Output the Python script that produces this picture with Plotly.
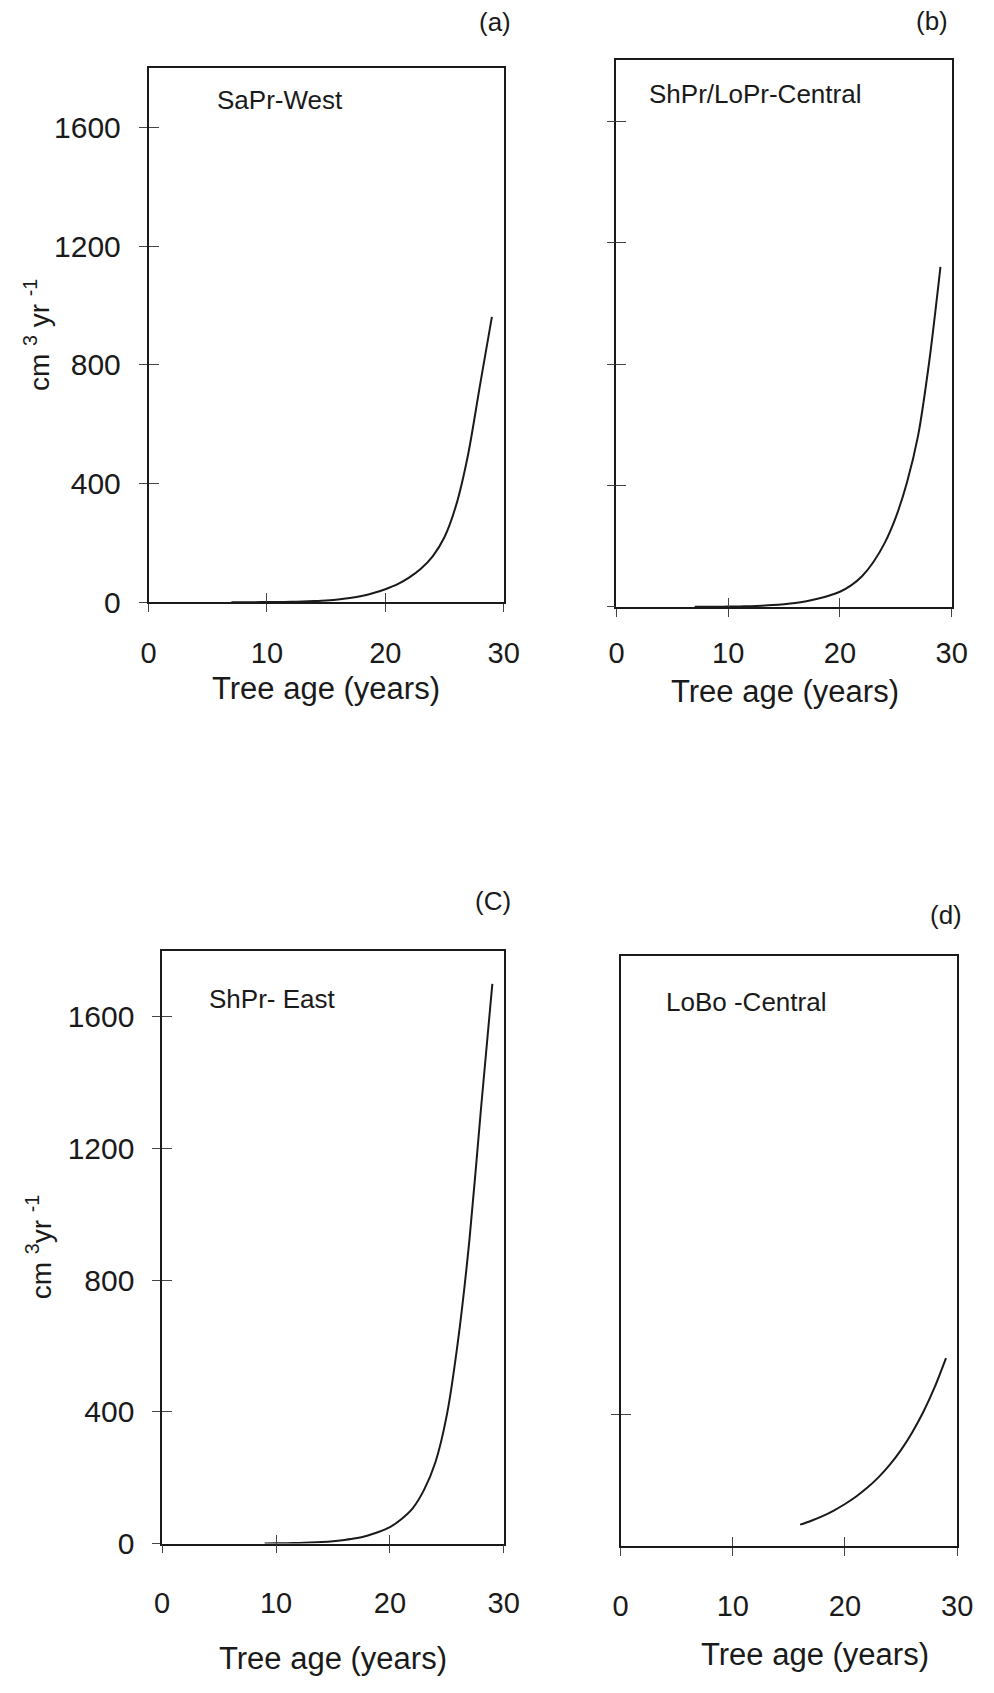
import plotly.graph_objects as go

W, H = 994, 1693

# ---------------- data ----------------
age_a = [7, 8, 9, 10, 11, 12, 13, 14, 15, 16, 17, 18, 19, 20, 21, 22, 23, 24, 25, 26, 27, 28, 29]
vol_a = [0.1, 0.2, 0.4, 0.6, 1, 1.5, 2.5, 4, 6, 9, 14, 21, 31, 44, 60, 83, 113, 155, 220, 330, 500, 733, 962]

age_b = [7, 8, 9, 10, 11, 12, 13, 14, 15, 16, 17, 18, 19, 20, 21, 22, 23, 24, 25, 26, 27, 28, 29]
vol_b = [0.2, 0.4, 0.6, 1, 1.5, 2.5, 4, 6, 9, 13, 19, 27, 37, 50, 71, 102, 148, 210, 295, 410, 565, 810, 1120]

age_c = [9, 10, 11, 12, 13, 14, 15, 16, 17, 18, 19, 20, 21, 22, 23, 24, 25, 26, 27, 28, 29]
vol_c = [0.5, 0.8, 1.2, 2, 3, 4.5, 7, 11, 16, 24, 35, 50, 74, 107, 163, 247, 390, 620, 927, 1320, 1700]

age_d = [16, 17, 18, 19, 20, 21, 22, 23, 24, 25, 26, 27, 28, 29]
vol_d = [65, 77, 91, 108, 128, 151, 178, 210, 248, 293, 347, 410, 485, 573]

panel_names = ["SaPr-West", "ShPr/LoPr-Central", "ShPr- East", "LoBo -Central"]
panel_tags = ["(a)", "(b)", "(C)", "(d)"]
x_title = "Tree age (years)"
y_titles = ["cm <sup>3</sup> yr <sup>-1</sup>", None, "cm <sup>3</sup>yr <sup>-1</sup>", None]
x_ticks = [0, 10, 20, 30]
y_ticks = [0, 400, 800, 1200, 1600]
y_ticks_d = [400]
x_range = [0, 30]
y_range = [0, 1800]

# ---------------- layout geometry (pixels) ----------------
# plot boxes: left, right, top, bottom
boxes = [
    (144.0, 508.0, 69.0, 608.0),
    (623.5, 967.0, 61.0, 612.7),
    (158.0, 508.0, 960.0, 1558.3),
    (627.7, 972.7, 965.0, 1560.7),
]
x_standoff = [16, 12, 25, 25]
name_pos = [(212, 101), (655, 95), (204, 1009), (672.7, 1011.7)]
tag_pos = [(518, 22), (965, 21.7), (518, 910), (979.3, 923.3)]
xtitle_pos = [(326, 695), (796.7, 698), (333, 1674), (826.7, 1670)]
ytitle_pos = [(30, 338), None, (32, 1259), None]
show_y_labels = [True, False, True, False]

FONT = "Arial, Liberation Sans, sans-serif"
INK = "#1a1a1a"


def px(x):
    return x / W


def py(y):
    return 1 - y / H


series = [(age_a, vol_a), (age_b, vol_b), (age_c, vol_c), (age_d, vol_d)]

fig = go.Figure()
layout = {}
annotations = []

for i, ((xs, ys), (l, r, t, b)) in enumerate(zip(series, boxes)):
    n = i + 1
    ov = i + 5
    xa, ya = f"x{n}", f"y{n}"
    fig.add_trace(go.Scatter(x=xs, y=ys, mode="lines",
                             line=dict(color=INK, width=2, shape="spline", smoothing=0.8),
                             xaxis=xa, yaxis=ya, showlegend=False, hoverinfo="skip"))
    # empty trace on overlay axes (inner half of the crossing ticks)
    fig.add_trace(go.Scatter(x=[], y=[], xaxis=f"x{ov}", yaxis=f"y{ov}", showlegend=False))
    yt = y_ticks_d if i == 3 else y_ticks
    layout[f"xaxis{n}"] = dict(
        domain=[px(l), px(r)], anchor=ya, range=x_range, tickvals=x_ticks,
        showline=True, linecolor=INK, linewidth=1.5, mirror=True,
        ticks="outside", ticklen=8, tickwidth=1, tickcolor="#444",
        showgrid=False, zeroline=False,
        tickfont=dict(family=FONT, size=29, color=INK), ticklabelstandoff=x_standoff[i],
    )
    layout[f"yaxis{n}"] = dict(
        domain=[py(b), py(t)], anchor=xa, range=y_range, tickvals=yt,
        showline=True, linecolor=INK, linewidth=1.5, mirror=True,
        ticks="outside", ticklen=8, tickwidth=1, tickcolor="#444",
        showgrid=False, zeroline=False, showticklabels=show_y_labels[i],
        tickfont=dict(family=FONT, size=30, color=INK), ticklabelstandoff=12,
    )
    layout[f"xaxis{ov}"] = dict(
        overlaying=xa, anchor=f"y{ov}", range=x_range, tickvals=x_ticks, side="bottom",
        ticks="inside", ticklen=9, tickwidth=1, tickcolor="#444",
        showline=False, showgrid=False, zeroline=False, showticklabels=False,
    )
    layout[f"yaxis{ov}"] = dict(
        overlaying=ya, anchor=f"x{ov}", range=y_range, tickvals=yt, side="left",
        ticks="inside", ticklen=10, tickwidth=1, tickcolor="#444",
        showline=False, showgrid=False, zeroline=False, showticklabels=False,
    )

    nx, ny = name_pos[i]
    annotations.append(dict(text=panel_names[i], x=px(nx), y=py(ny), xref="paper", yref="paper",
                            xanchor="left", yanchor="middle", showarrow=False,
                            font=dict(family=FONT, size=26, color=INK)))
    tx, ty = tag_pos[i]
    annotations.append(dict(text=panel_tags[i], x=px(tx), y=py(ty), xref="paper", yref="paper",
                            xanchor="right", yanchor="middle", showarrow=False,
                            font=dict(family=FONT, size=26, color=INK)))
    xx, xy = xtitle_pos[i]
    annotations.append(dict(text=x_title, x=px(xx), y=py(xy), xref="paper", yref="paper",
                            xanchor="center", yanchor="middle", showarrow=False,
                            font=dict(family=FONT, size=31, color=INK)))
    if y_titles[i]:
        yx, yy = ytitle_pos[i]
        annotations.append(dict(text=y_titles[i], x=px(yx), y=py(yy), xref="paper", yref="paper",
                                xanchor="center", yanchor="middle", showarrow=False, textangle=-90,
                                font=dict(family=FONT, size=28, color=INK)))

fig.update_layout(
    width=W, height=H, margin=dict(l=0, r=0, t=0, b=0),
    paper_bgcolor="white", plot_bgcolor="white",
    annotations=annotations, showlegend=False,
    **layout,
)

fig.write_html("out.html", config={"displayModeBar": False})
